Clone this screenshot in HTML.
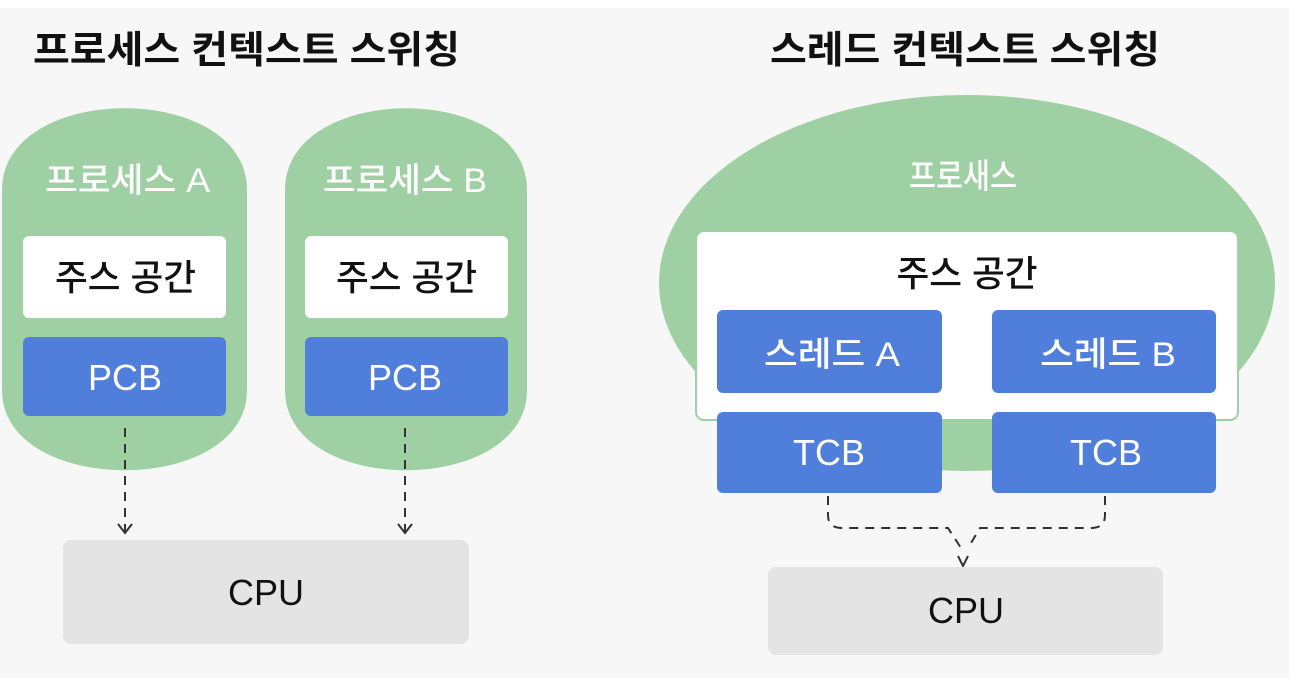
<!DOCTYPE html>
<html><head><meta charset="utf-8"><style>
html,body{margin:0;padding:0;background:#f7f7f7;}
svg{display:block;}
text{font-family:"Liberation Sans","Noto Sans CJK KR",sans-serif;font-weight:500;}
</style></head><body>
<svg width="1289" height="678" viewBox="0 0 1289 678" xmlns="http://www.w3.org/2000/svg">
<rect x="0" y="0" width="1289" height="678" fill="#f7f7f7"/>
<rect x="0" y="0" width="1289" height="8" fill="#ffffff"/>
<!-- titles -->
<text x="33" y="63" font-size="38" font-weight="bold" style="font-weight:bold" fill="#111" textLength="427" lengthAdjust="spacingAndGlyphs">프로세스 컨텍스트 스위칭</text>
<text x="770" y="63" font-size="38" style="font-weight:bold" fill="#111" textLength="390" lengthAdjust="spacingAndGlyphs">스레드 컨텍스트 스위칭</text>

<!-- left capsules -->
<path d="M2,190 C2,81 247,81 247,190 L247,390 C247,497 2,497 2,390 Z" fill="#9fd0a3"/>
<path d="M285,190 C285,81 527,81 527,190 L527,390 C527,497 285,497 285,390 Z" fill="#9fd0a3"/>
<text x="45" y="192" font-size="34" fill="#fff" textLength="165" lengthAdjust="spacingAndGlyphs">프로세스 A</text>
<text x="323" y="192" font-size="34" fill="#fff" textLength="164" lengthAdjust="spacingAndGlyphs">프로세스 B</text>
<rect x="23" y="236" width="203" height="82" rx="6" fill="#fff"/>
<rect x="305" y="236" width="203" height="82" rx="6" fill="#fff"/>
<text x="55" y="290" font-size="36" fill="#111" textLength="141" lengthAdjust="spacingAndGlyphs">주스 공간</text>
<text x="336" y="290" font-size="36" fill="#111" textLength="141" lengthAdjust="spacingAndGlyphs">주스 공간</text>
<rect x="23" y="337" width="203" height="79" rx="6" fill="#507fdb"/>
<rect x="305" y="337" width="203" height="79" rx="6" fill="#507fdb"/>
<text x="125" y="390" font-size="36" fill="#fff" text-anchor="middle">PCB</text>
<text x="405" y="390" font-size="36" fill="#fff" text-anchor="middle">PCB</text>
<g stroke="#333" stroke-width="2" fill="none">
<line x1="125" y1="428" x2="125" y2="533" stroke-dasharray="9,7"/>
<polyline points="118,524 125,533 132,524"/>
<line x1="405" y1="428" x2="405" y2="533" stroke-dasharray="9,7"/>
<polyline points="398,524 405,533 412,524"/>
</g>
<rect x="63" y="540" width="406" height="104" rx="8" fill="#e4e4e4"/>
<text x="266" y="605" font-size="36" fill="#111" text-anchor="middle">CPU</text>

<!-- right -->
<ellipse cx="967" cy="283" rx="308" ry="188" fill="#9fd0a3"/>
<text x="963" y="188" font-size="34" fill="#fff" text-anchor="middle" textLength="108" lengthAdjust="spacingAndGlyphs">프로새스</text>
<rect x="696" y="231" width="542" height="189" rx="8" fill="#fff" stroke="#9fd0a3" stroke-width="2"/>
<text x="967" y="286" font-size="36" fill="#111" text-anchor="middle" textLength="141" lengthAdjust="spacingAndGlyphs">주스 공간</text>
<rect x="717" y="310" width="225" height="83" rx="6" fill="#507fdb"/>
<rect x="992" y="310" width="224" height="83" rx="6" fill="#507fdb"/>
<text x="764" y="366" font-size="34" fill="#fff" textLength="136" lengthAdjust="spacingAndGlyphs">스레드 A</text>
<text x="1040" y="366" font-size="34" fill="#fff" textLength="136" lengthAdjust="spacingAndGlyphs">스레드 B</text>
<rect x="717" y="412" width="225" height="81" rx="6" fill="#507fdb"/>
<rect x="992" y="412" width="224" height="81" rx="6" fill="#507fdb"/>
<text x="829" y="465" font-size="36" fill="#fff" text-anchor="middle">TCB</text>
<text x="1106" y="465" font-size="36" fill="#fff" text-anchor="middle">TCB</text>
<g stroke="#333" stroke-width="2" fill="none" stroke-dasharray="9,7">
<path d="M828,496 L828,515 Q828,528 842,528 L948,528 L961,548"/>
<path d="M1105,496 L1105,515 Q1105,528 1091,528 L980,528 L968,548"/>
</g>
<polyline points="958,556 963,566 968,556" stroke="#333" stroke-width="2" fill="none"/>
<rect x="768" y="567" width="395" height="88" rx="8" fill="#e4e4e4"/>
<text x="966" y="623" font-size="36" fill="#111" text-anchor="middle">CPU</text>
</svg>
</body></html>
